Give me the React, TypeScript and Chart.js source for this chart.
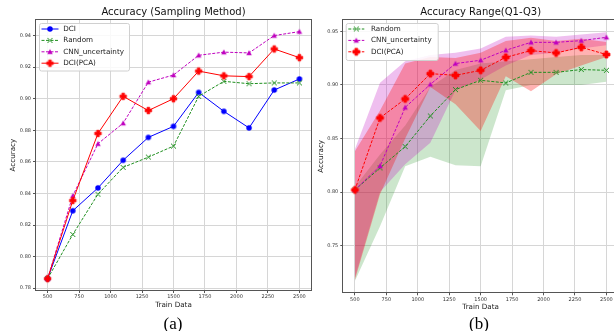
import React, { useEffect, useRef } from "react";
import { Chart, registerables } from "chart.js";

Chart.register(...registerables);

const FONT = '"DejaVu Sans", "Liberation Sans", sans-serif';

// ---------- data ----------
const trainSizes = [500, 700, 900, 1100, 1300, 1500, 1700, 1900, 2100, 2300, 2500];
const xTickValues = [500, 750, 1000, 1250, 1500, 1750, 2000, 2250, 2500];
const yTicksA = [0.78, 0.8, 0.82, 0.84, 0.86, 0.88, 0.9, 0.92, 0.94];
const yTicksB = [0.75, 0.8, 0.85, 0.9, 0.95];

// (a) Accuracy (Sampling Method)
const dciA = [0.786, 0.829, 0.8435, 0.861, 0.8755, 0.8825, 0.904, 0.892, 0.8815, 0.9055, 0.9125];
const randomA = [0.786, 0.814, 0.8395, 0.8565, 0.863, 0.87, 0.9015, 0.911, 0.9095, 0.91, 0.91];
const cnnA = [0.786, 0.8385, 0.8715, 0.8845, 0.9105, 0.915, 0.9275, 0.9295, 0.929, 0.94, 0.9425];
const pcaA = [0.786, 0.8355, 0.878, 0.9015, 0.8925, 0.9, 0.9175, 0.9145, 0.914, 0.9315, 0.926];

// (b) Accuracy Range (Q1-Q3)
const randomB = [0.802, 0.8225, 0.8424, 0.871, 0.8956, 0.9043, 0.9018, 0.9117, 0.9117, 0.9143, 0.9136];
const randomBLow = [0.717, 0.768, 0.824, 0.833, 0.825, 0.824, 0.895, 0.9, 0.9, 0.9, 0.903];
const randomBHigh = [0.805, 0.835, 0.862, 0.898, 0.914, 0.92, 0.922, 0.924, 0.926, 0.928, 0.928];

const cnnB = [0.802, 0.8243, 0.879, 0.9005, 0.9199, 0.923, 0.9323, 0.9397, 0.9397, 0.9413, 0.9444];
const cnnBLow = [0.72, 0.8, 0.826, 0.846, 0.895, 0.905, 0.918, 0.928, 0.93, 0.934, 0.937];
const cnnBHigh = [0.84, 0.902, 0.922, 0.928, 0.93, 0.934, 0.945, 0.946, 0.945, 0.947, 0.949];

const pcaB = [0.802, 0.8692, 0.8869, 0.9105, 0.9089, 0.9136, 0.9257, 0.932, 0.9298, 0.9351, 0.9283];
const pcaBLow = [0.718, 0.798, 0.85, 0.898, 0.882, 0.857, 0.908, 0.894, 0.91, 0.918, 0.926];
const pcaBHigh = [0.838, 0.876, 0.92, 0.926, 0.925, 0.93, 0.941, 0.944, 0.941, 0.943, 0.94];

// ---------- styles ----------
const BLUE = "#0000ff";
const GREEN = "#1f8f1f";
const MAGENTA = "#bf00bf";
const RED = "#ff0000";
const DASH = [3, 1.5];

type MarkerKind = "circle" | "triangle" | "x" | "plus";

function makeMarker(kind: MarkerKind, color: string, size: number): HTMLCanvasElement {
  const dim = Math.ceil(size) + 4;
  const c = document.createElement("canvas");
  c.width = dim;
  c.height = dim;
  const ctx = c.getContext("2d")!;
  const cx = dim / 2;
  const cy = dim / 2;
  const r = size / 2;
  ctx.fillStyle = color;
  ctx.strokeStyle = color;
  ctx.lineWidth = 1;
  ctx.beginPath();
  if (kind === "circle") {
    ctx.arc(cx, cy, r, 0, Math.PI * 2);
    ctx.fill();
  } else if (kind === "triangle") {
    ctx.moveTo(cx, cy - r);
    ctx.lineTo(cx + r, cy + r * 0.8);
    ctx.lineTo(cx - r, cy + r * 0.8);
    ctx.closePath();
    ctx.fill();
  } else if (kind === "x") {
    ctx.moveTo(cx - r, cy - r);
    ctx.lineTo(cx + r, cy + r);
    ctx.moveTo(cx + r, cy - r);
    ctx.lineTo(cx - r, cy + r);
    ctx.stroke();
  } else {
    const t = r * 0.4;
    const pts = [
      [-t, -r], [t, -r], [t, -t], [r, -t], [r, t], [t, t],
      [t, r], [-t, r], [-t, t], [-r, t], [-r, -t], [-t, -t],
    ];
    pts.forEach(([px, py], i) => (i ? ctx.lineTo(cx + px, cy + py) : ctx.moveTo(cx + px, cy + py)));
    ctx.closePath();
    ctx.fill();
    ctx.lineWidth = 0.8;
    ctx.stroke();
  }
  return c;
}

type LegendItem = { label: string; color: string; dash: number[]; marker: HTMLCanvasElement };
type LegendCfg = {
  x: number; y: number; w: number; h: number; rowY: number[];
  lineX0: number; lineX1: number; textX: number; fontSize: number; items: LegendItem[];
};

function makeLegendPlugin(cfg: LegendCfg) {
  return {
    id: "boxLegend",
    afterDraw(chart: any) {
      const ctx = chart.ctx as CanvasRenderingContext2D;
      ctx.save();
      ctx.beginPath();
      (ctx as any).roundRect(cfg.x + 0.5, cfg.y + 0.5, cfg.w, cfg.h, 2);
      ctx.fillStyle = "rgba(255,255,255,0.85)";
      ctx.fill();
      ctx.strokeStyle = "#d0d0d0";
      ctx.lineWidth = 1;
      ctx.stroke();
      cfg.items.forEach((it, i) => {
        const cy = cfg.rowY[i];
        ctx.beginPath();
        ctx.setLineDash(it.dash);
        ctx.strokeStyle = it.color;
        ctx.lineWidth = 1;
        ctx.moveTo(cfg.lineX0, cy);
        ctx.lineTo(cfg.lineX1, cy);
        ctx.stroke();
        ctx.setLineDash([]);
        const m = it.marker;
        ctx.drawImage(m, (cfg.lineX0 + cfg.lineX1) / 2 - m.width / 2, cy - m.height / 2);
        ctx.fillStyle = "#1a1a1a";
        ctx.font = `${cfg.fontSize}px ${FONT}`;
        ctx.textBaseline = "middle";
        ctx.textAlign = "left";
        ctx.fillText(it.label, cfg.textX, cy);
      });
      ctx.restore();
    },
  };
}

const framePlugin = {
  id: "frame",
  afterDatasetsDraw(chart: any) {
    const { left, top, right, bottom } = chart.chartArea;
    const ctx = chart.ctx as CanvasRenderingContext2D;
    ctx.save();
    ctx.strokeStyle = "#555";
    ctx.lineWidth = 1;
    const l = Math.round(left) + 0.5;
    const t = Math.round(top) + 0.5;
    const r = Math.round(right) - 0.5;
    const b = Math.round(bottom) - 0.5;
    ctx.strokeRect(l, t, r - l, b - t);
    ctx.restore();
  },
};

const pts = (ys: number[]) => trainSizes.map((x, i) => ({ x, y: ys[i] }));

function lineDs(label: string, ys: number[], color: string, marker: HTMLCanvasElement, dashed: boolean, order: number) {
  return {
    label,
    data: pts(ys),
    borderColor: color,
    backgroundColor: color,
    borderWidth: 1,
    borderDash: dashed ? DASH : [],
    pointStyle: marker,
    pointRadius: 3,
    pointHoverRadius: 3,
    fill: false,
    tension: 0,
    order,
  };
}

function bandDs(lo: number[], hi: number[], fillColor: string, order: number) {
  return [
    { label: "_lo", data: pts(lo), borderColor: "transparent", borderWidth: 0, pointRadius: 0, fill: false, order },
    { label: "_hi", data: pts(hi), borderColor: "transparent", borderWidth: 0, pointRadius: 0, fill: "-1", backgroundColor: fillColor, order },
  ];
}

function baseOptions(p: {
  title: string; xMin: number; xMax: number; yMin: number; yMax: number; yTicks: number[];
  yWidth: number; xHeight: number; padRight: number; yTitlePad: number; xTitlePad: number;
}) {
  return {
    animation: false,
    responsive: false,
    maintainAspectRatio: false,
    devicePixelRatio: 1,
    layout: { padding: { left: 0, right: p.padRight, top: 0, bottom: 0 } },
    plugins: {
      legend: { display: false },
      tooltip: { enabled: false },
      title: {
        display: true,
        text: p.title,
        fullSize: false,
        color: "#111",
        font: { family: FONT, size: 10, weight: "normal" },
        padding: { top: 6.5, bottom: 0.8 },
      },
    },
    scales: {
      x: {
        type: "linear",
        min: p.xMin,
        max: p.xMax,
        afterBuildTicks: (s: any) => { s.ticks = xTickValues.map((v) => ({ value: v })); },
        afterFit: (s: any) => { s.height = p.xHeight; },
        ticks: {
          autoSkip: false, maxRotation: 0, minRotation: 0, padding: 1, color: "#333",
          font: { family: FONT, size: 5 },
          callback: (v: any) => String(v),
        },
        grid: { color: "#d6d6d6", lineWidth: 1, tickColor: "#555", tickLength: 2 },
        border: { display: false },
        title: {
          display: true, text: "Train Data", color: "#222",
          font: { family: FONT, size: 7.2 },
          padding: { top: 0, bottom: p.xTitlePad },
        },
      },
      y: {
        type: "linear",
        min: p.yMin,
        max: p.yMax,
        afterBuildTicks: (s: any) => { s.ticks = p.yTicks.map((v) => ({ value: v })); },
        afterFit: (s: any) => { s.width = p.yWidth; },
        ticks: {
          autoSkip: false, padding: 2, color: "#333",
          font: { family: FONT, size: 5 },
          callback: (v: any) => Number(v).toFixed(2),
        },
        grid: { color: "#d6d6d6", lineWidth: 1, tickColor: "#555", tickLength: 2 },
        border: { display: false },
        title: {
          display: true, text: "Accuracy", color: "#222",
          font: { family: FONT, size: 7.2 },
          padding: { top: p.yTitlePad, bottom: 0 },
        },
      },
    },
  };
}

export default function App() {
  const refA = useRef<HTMLCanvasElement>(null);
  const refB = useRef<HTMLCanvasElement>(null);

  useEffect(() => {
    // ----- chart (a) -----
    const mCircleA = makeMarker("circle", BLUE, 5.5);
    const mXA = makeMarker("x", GREEN, 5);
    const mTriA = makeMarker("triangle", MAGENTA, 5.5);
    const mPlusA = makeMarker("plus", RED, 6.5);

    const legendA = makeLegendPlugin({
      x: 39, y: 23, w: 90, h: 47.5, rowY: [29, 40.4, 51.8, 63.2],
      lineX0: 41.5, lineX1: 58.5, textX: 63.3, fontSize: 7.2,
      items: [
        { label: "DCI", color: BLUE, dash: [], marker: mCircleA },
        { label: "Random", color: GREEN, dash: DASH, marker: mXA },
        { label: "CNN_uncertainty", color: MAGENTA, dash: DASH, marker: mTriA },
        { label: "DCI(PCA)", color: RED, dash: [], marker: mPlusA },
      ],
    });

    const chartA = new Chart(refA.current!, {
      type: "line",
      data: {
        datasets: [
          lineDs("DCI", dciA, BLUE, mCircleA, false, 3),
          lineDs("Random", randomA, GREEN, mXA, true, 2),
          lineDs("CNN_uncertainty", cnnA, MAGENTA, mTriA, true, 1),
          lineDs("DCI(PCA)", pcaA, RED, mPlusA, false, 0),
        ] as any,
      },
      options: baseOptions({
        title: "Accuracy (Sampling Method)",
        xMin: 400, xMax: 2600, yMin: 0.7782, yMax: 0.9503, yTicks: yTicksA,
        yWidth: 35, xHeight: 24, padRight: 2.5, yTitlePad: 9.2, xTitlePad: 5.4,
      }) as any,
      plugins: [framePlugin, legendA],
    });

    // ----- chart (b) -----
    const mXB = makeMarker("x", GREEN, 5);
    const mTriB = makeMarker("triangle", MAGENTA, 5.5);
    const mPlusB = makeMarker("plus", RED, 7);

    const legendB = makeLegendPlugin({
      x: 40.7, y: 23, w: 92, h: 37, rowY: [29, 40.4, 51.8],
      lineX0: 43.3, lineX1: 59.3, textX: 66, fontSize: 7.2,
      items: [
        { label: "Random", color: GREEN, dash: DASH, marker: mXB },
        { label: "CNN_uncertainty", color: MAGENTA, dash: DASH, marker: mTriB },
        { label: "DCI(PCA)", color: RED, dash: DASH, marker: mPlusB },
      ],
    });

    const chartB = new Chart(refB.current!, {
      type: "line",
      data: {
        datasets: [
          ...bandDs(randomBLow, randomBHigh, "rgba(0,128,0,0.2)", 12),
          ...bandDs(cnnBLow, cnnBHigh, "rgba(191,0,191,0.25)", 11),
          ...bandDs(pcaBLow, pcaBHigh, "rgba(255,0,0,0.3)", 10),
          lineDs("Random", randomB, GREEN, mXB, true, 2),
          lineDs("CNN_uncertainty", cnnB, MAGENTA, mTriB, true, 1),
          lineDs("DCI(PCA)", pcaB, RED, mPlusB, true, 0),
        ] as any,
      },
      options: baseOptions({
        title: "Accuracy Range(Q1-Q3)",
        xMin: 400, xMax: 2600, yMin: 0.7055, yMax: 0.9612, yTicks: yTicksB,
        yWidth: 37.3, xHeight: 21.7, padRight: 0, yTitlePad: 11.4, xTitlePad: 3.4,
      }) as any,
      plugins: [framePlugin, legendB],
    });

    return () => {
      chartA.destroy();
      chartB.destroy();
    };
  }, []);

  const captionStyle: React.CSSProperties = {
    position: "absolute",
    top: 315,
    fontFamily: '"Liberation Serif", "DejaVu Serif", serif',
    fontSize: 17,
    lineHeight: "17px",
    color: "#000",
    transform: "translateX(-50%)",
    whiteSpace: "nowrap",
  };

  return (
    <div style={{ position: "fixed", left: 0, top: 0, width: 614, height: 331, overflow: "hidden", background: "#fff" }}>
      <canvas ref={refA} width={316} height={315} style={{ position: "absolute", left: 0, top: 0, width: 316, height: 315 }} />
      <canvas ref={refB} width={318} height={315} style={{ position: "absolute", left: 305, top: 0, width: 318, height: 315 }} />
      <div style={{ ...captionStyle, left: 173 }}>(a)</div>
      <div style={{ ...captionStyle, left: 479 }}>(b)</div>
    </div>
  );
}
